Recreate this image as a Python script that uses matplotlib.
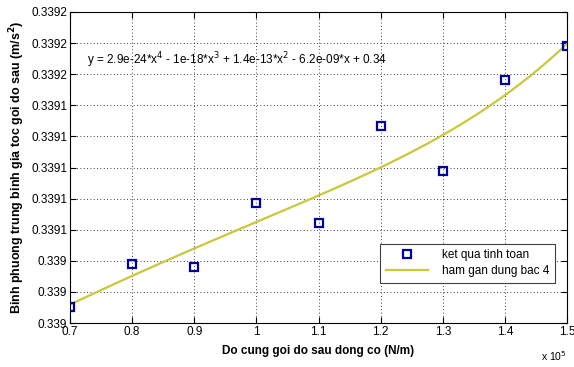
import numpy as np
import matplotlib
matplotlib.use("Agg")
import matplotlib.pyplot as plt
from matplotlib.ticker import FixedLocator, FuncFormatter

plt.rcParams['font.family'] = ['Liberation Sans', 'DejaVu Sans']

# Stiffness of the rear engine mount (N/m) and computed RMS acceleration
stiffness = [0.7e5, 0.8e5, 0.9e5, 1.0e5, 1.1e5, 1.2e5, 1.3e5, 1.4e5, 1.5e5]
rms_accel = [0.339010, 0.339038, 0.339036, 0.339077, 0.339064,
             0.339127, 0.339098, 0.339156, 0.339178]

x_ticks = [0.7, 0.8, 0.9, 1.0, 1.1, 1.2, 1.3, 1.4, 1.5]
x_tick_labels = ['0.7', '0.8', '0.9', '1', '1.1', '1.2', '1.3', '1.4', '1.5']
y_ticks = [0.33900, 0.33902, 0.33904, 0.33906, 0.33908, 0.33910,
           0.33912, 0.33914, 0.33916, 0.33918, 0.33920]

equation = (r"y = 2.9e-24*x$^{4}$ - 1e-18*x$^{3}$ + 1.4e-13*x$^{2}$"
            r" - 6.2e-09*x + 0.34")

xs = np.array(stiffness) / 1e5
ys = np.array(rms_accel)

# 4th-order polynomial fit of the computed results
coef = np.polyfit(xs, ys, 4)
xf = np.linspace(xs.min(), xs.max(), 200)
yf = np.polyval(coef, xf)

W, H = 574, 367
fig = plt.figure(figsize=(W / 100, H / 100), dpi=100)
ax = fig.add_axes([70 / W, (H - 323) / H, (567 - 70) / W, (323 - 12) / H])

ax.plot(xs, ys, 's', ms=6, mfc='none', mec='#0000a8', mew=1.6,
        linestyle='none', label='ket qua tinh toan', zorder=3)
ax.plot(xf, yf, '-', color='#c8c83a', lw=1.6, label='ham gan dung bac 4',
        zorder=2)

ax.set_xlim(0.7, 1.5)
ax.set_ylim(0.33900, 0.33920)
ax.xaxis.set_major_locator(FixedLocator(x_ticks))
ax.set_xticklabels(x_tick_labels)
ax.yaxis.set_major_locator(FixedLocator(y_ticks))
ax.yaxis.set_major_formatter(FuncFormatter(lambda v, p: '%.4g' % v))

ax.grid(True, color='black', linestyle=(0, (1, 3)), linewidth=0.6)
ax.tick_params(direction='in', top=True, right=True, labelsize=8.5,
               length=4, width=0.8, pad=2)
for s in ax.spines.values():
    s.set_linewidth(0.8)

ax.set_xlabel('Do cung goi do sau dong co (N/m)', fontsize=8.5,
              fontweight='bold', labelpad=5)
ax.set_ylabel('Binh phuong trung binh gia toc goi do sau (m/s$^{\\mathbf{2}}$)',
              fontsize=9, fontweight='bold', labelpad=3)

ax.text(0.727, 0.339169, equation, fontsize=8.5, va='center', ha='left')
fig.text(541 / W, 1 - 356 / H, r'x 10$^{5}$', fontsize=7.5, ha='left',
         va='center')

leg = ax.legend(loc='lower right', bbox_to_anchor=(0.988, 0.11),
                fontsize=8.5, fancybox=False, framealpha=1,
                edgecolor='#404040', handlelength=3.5, handletextpad=1.2,
                borderpad=0.5, labelspacing=0.3)
leg.get_frame().set_linewidth(0.8)

fig.savefig('out.png', dpi=100)
